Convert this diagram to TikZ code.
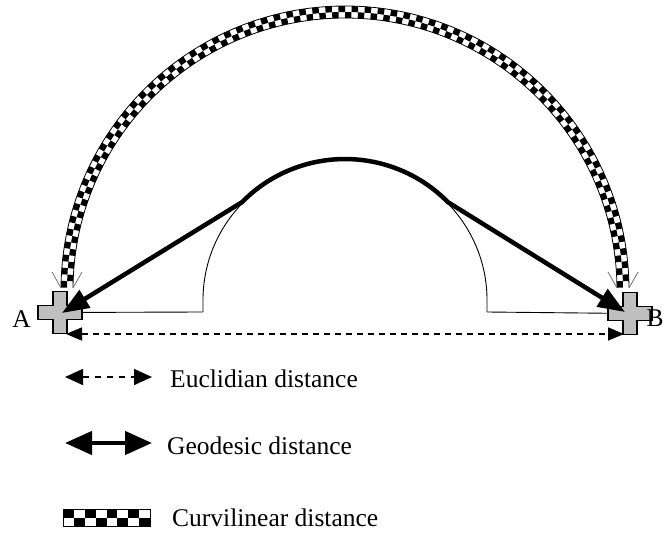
\documentclass[tikz,border=0pt]{standalone}
\usepackage{fontspec}
\setmainfont{Liberation Serif}
\usetikzlibrary{arrows.meta}
\begin{document}
\begin{tikzpicture}[x=1pt,y=1pt,
  lbl/.style={inner sep=0pt, font=\fontsize{25.5}{29}\selectfont},
  crossshape/.style={draw=black, line width=1.4pt, fill=black!25, line join=miter},
  thinline/.style={draw=black, line width=0.9pt},
  vtick/.style={draw=black!55, line width=0.8pt},
  geo/.style={draw=black, line width=4.5pt, line join=round,
     {Triangle[length=27pt,width=20pt]}-{Triangle[length=27pt,width=20pt]}},
  geoleg/.style={draw=black, line width=4.5pt,
     {Triangle[length=27pt,width=23pt]}-{Triangle[length=27pt,width=23pt]}},
  euc/.style={draw=black, line width=1.6pt, dash pattern=on 6pt off 5pt,
     {Triangle[length=16pt,width=13pt]}-{Triangle[length=16pt,width=13pt]}},
  eucleg/.style={draw=black, line width=1.6pt, dash pattern=on 6pt off 6pt,
     {Triangle[length=18pt,width=16pt]}-{Triangle[length=18pt,width=16pt]}},
]
\useasboundingbox (0,0) rectangle (664,535);
\fill[white] (0,0) rectangle (664,535);

% key points
\coordinate (C) at (345,245);
\coordinate (A) at (60,222.5);
\coordinate (B) at (630,221.5);
\coordinate (Ag) at (62,222);
\coordinate (Bg) at (625,223);
\coordinate (T1) at (242.1,332.9);
\coordinate (Ae) at (66,201);
\coordinate (Be) at (624,201);
\coordinate (H1) at (203,223);
\coordinate (H2) at (487,223);

% curvilinear checker band
\begin{scope}[shift={(C)}]
\foreach \i in {0,...,133}{
  \pgfmathsetmacro{\a}{0.5+\i*1.3358}
  \pgfmathsetmacro{\b}{\a+1.3358}
  \ifodd\i
    \fill (\a:278) arc[start angle=\a,end angle=\b,radius=278] -- (\b:284) arc[start angle=\b,end angle=\a,radius=284] -- cycle;
  \else
    \fill (\a:272) arc[start angle=\a,end angle=\b,radius=272] -- (\b:278) arc[start angle=\b,end angle=\a,radius=278] -- cycle;
  \fi
}
\draw[line width=0.8pt] (0.5:272) arc[start angle=0.5,end angle=179.5,radius=272];
\draw[line width=0.8pt] (0.5:284) arc[start angle=0.5,end angle=179.5,radius=284];
\end{scope}

% thin V ticks at the band ends
\draw[vtick] (52,263) -- (61,247);
\draw[vtick] (82,263) -- (73,247);
\draw[vtick] (608,263) -- (617,247);
\draw[vtick] (638,263) -- (629,247);

% ground line and hump
\draw[thinline] (A) -- (H1);
\draw[thinline] (H2) -- (B);
\draw[thinline] (H1) -- ++(0,12) arc[start angle=180,end angle=0,x radius=142,y radius=140] -- (H2);

% crosses
\draw[crossshape, shift={(A)}] (-7,21) -- (7,21) -- (7,7) -- (22,7) -- (22,-7) -- (7,-7) -- (7,-21) -- (-7,-21) -- (-7,-7) -- (-22,-7) -- (-22,7) -- (-7,7) -- cycle;
\draw[crossshape, shift={(B)}] (-7,21) -- (7,21) -- (7,7) -- (22,7) -- (22,-7) -- (7,-7) -- (7,-21) -- (-7,-21) -- (-7,-7) -- (-22,-7) -- (-22,7) -- (-7,7) -- cycle;

% geodesic distance
\draw[geo] (Ag) -- (T1) arc[start angle=136,end angle=44,x radius=143,y radius=141] -- (Bg);

% euclidian distance
\draw[euc] (Ae) -- (Be);

% point labels
\node[lbl] (labA) at (21.5,216) {A};
\node[lbl, anchor=west] (labB) at (646.5,216.5) {B};

% legend
\coordinate (le1) at (65,158);
\coordinate (le2) at (152,158);
\coordinate (lg1) at (65,92);
\coordinate (lg2) at (152,92);
\coordinate (lc) at (63,8);
\draw[eucleg] (le1) -- (le2);
\draw[geoleg] (lg1) -- (lg2);
\begin{scope}[shift={(lc)}]
\foreach \c in {0,...,7}{
  \foreach \r in {0,1}{
    \pgfmathtruncatemacro{\s}{\c+\r}
    \ifodd\s\else
      \fill ({\c*10.875},{(1-\r)*8.5}) rectangle ++(10.875,8.5);
    \fi
  }
}
\draw[line width=1pt] (0,0) rectangle (87,17);
\end{scope}
\node[lbl, anchor=west] (tE) at (170,156) {Euclidian distance};
\node[lbl, anchor=west] (tG) at (167,89) {Geodesic distance};
\node[lbl, anchor=west] (tC) at (172,17) {Curvilinear distance};
\end{tikzpicture}
\end{document}
